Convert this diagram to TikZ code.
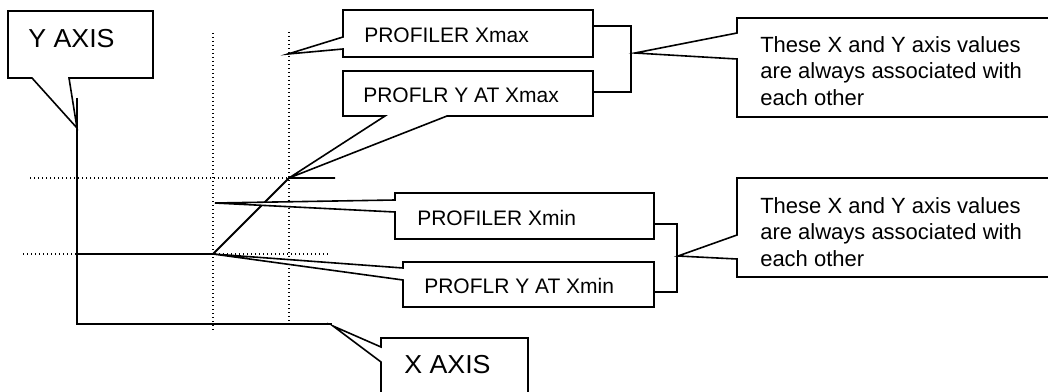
\documentclass[tikz,border=0pt]{standalone}
\usepackage{fontspec}
\setmainfont{Liberation Sans}
\newfontfamily\axisfont[FakeStretch=1.03]{Liberation Sans}
\tikzset{
  outline/.style={draw=black, line width=1.2pt, line join=miter, fill=white},
  curve/.style={draw=black, line width=1.4pt},
  guide/.style={draw=black, line width=1pt, dash pattern=on 1pt off 2pt},
  axislbl/.style={inner sep=0pt, font=\axisfont\fontsize{19.5}{22}\selectfont},
  proflbl/.style={inner sep=0pt, font=\fontsize{15.75}{20}\selectfont},
  notelbl/.style={inner sep=0pt, align=left, font=\fontsize{16.5}{20}\selectfont},
}
\begin{document}
\begin{tikzpicture}[x=0.75pt, y=-0.75pt]
\useasboundingbox (0,0) rectangle (1048,392);
\clip (0,0) rectangle (1048,392);

% key points
\coordinate (ytop) at (77,98);
\coordinate (orig) at (77,324);
\coordinate (xend) at (332,324);
\coordinate (pmin) at (213,254);
\coordinate (pmax) at (289,178);
\coordinate (pend) at (335,178);
\coordinate (ytip) at (77,128);
\coordinate (xtip) at (333,326);
\coordinate (xmaxtip) at (288,54);
\coordinate (xmintip) at (215,203);
\coordinate (br1) at (635,53);
\coordinate (br2) at (678,256);

% dotted guides
\draw[guide] (213,33) -- (213,330);
\draw[guide] (289,32) -- (289,324);
\draw[guide] (30,178) -- (pmax);
\draw[guide] (23,254) -- (328,254);

% axes
\draw[curve] (ytop) -- (orig) -- (xend);
% profile
\draw[curve] (77,254) -- (pmin) -- (pmax) -- (pend);

% brackets
\draw[outline, fill=none] (593,26) -- (631,26) -- (631,92) -- (593,92);
\draw[outline, fill=none] (654,224) -- (677,224) -- (677,292) -- (654,292);

% Y AXIS callout
\draw[outline] (8,11) -- (153,11) -- (153,78) -- (69,78) -- (ytip) -- (32,78) -- (8,78) -- cycle;
\node[axislbl, anchor=base west] (ylbl) at (28,48) {Y AXIS};

% PROFILER Xmax
\draw[outline] (343,10) -- (593,10) -- (593,57) -- (343,57) -- (343,49) -- (xmaxtip) -- (343,37) -- cycle;
\node[proflbl, anchor=base west] (pxmax) at (364,43) {PROFILER Xmax};

% PROFLR Y AT Xmax
\draw[outline] (343,71) -- (593,71) -- (593,116) -- (447,116) -- (pmax) -- (385,116) -- (343,116) -- cycle;
\node[proflbl, anchor=base west] (pymax) at (363,103) {PROFLR Y AT Xmax};

% top note
\draw[outline] (737,18) -- (1060,18) -- (1060,117) -- (737,117) -- (737,59) -- (br1) -- (737,33) -- cycle;
\node[notelbl, anchor=north west] (note1) at (760,36) {These X and Y axis values\\are always associated with\\each other};

% PROFILER Xmin
\draw[outline] (395,193) -- (654,193) -- (654,239) -- (395,239) -- (395,212) -- (xmintip) -- (395,200) -- cycle;
\node[proflbl, anchor=base west] (pxmin) at (417,225) {PROFILER Xmin};

% PROFLR Y AT Xmin
\draw[outline] (403,262) -- (654,262) -- (654,307) -- (403,307) -- (403,280) -- (pmin) -- (403,268) -- cycle;
\node[proflbl, anchor=base west] (pymin) at (424,293) {PROFLR Y AT Xmin};

% bottom note
\draw[outline] (737,178) -- (1060,178) -- (1060,277) -- (737,277) -- (737,259) -- (br2) -- (737,235) -- cycle;
\node[notelbl, anchor=north west] (note2) at (760,197) {These X and Y axis values\\are always associated with\\each other};

% X AXIS callout
\draw[outline] (381,338) -- (528,338) -- (528,400) -- (381,400) -- (381,362) -- (xtip) -- (381,347) -- cycle;
\node[axislbl, anchor=base west] (xlbl) at (404,373) {X AXIS};
\end{tikzpicture}
\end{document}
